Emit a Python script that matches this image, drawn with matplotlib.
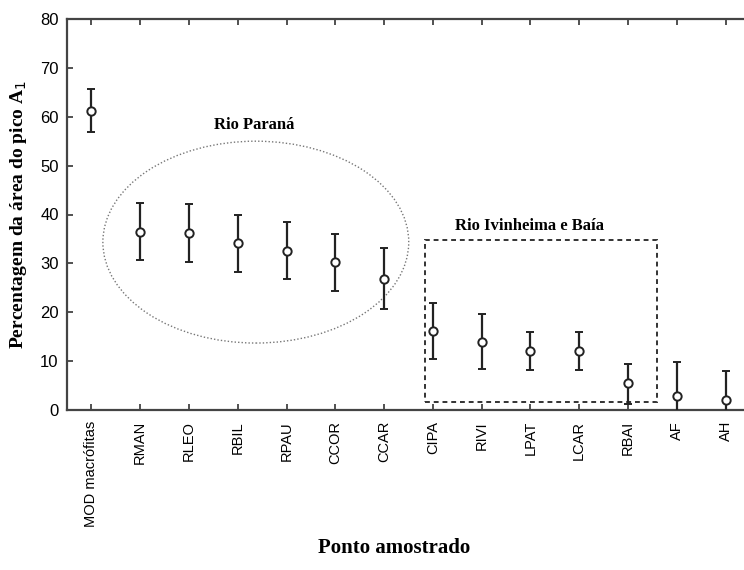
import numpy as np
from matplotlib import pyplot as plt
import matplotlib.patches as patch

plt.rcParams.update({
    "font.family": "Liberation Sans",
    "font.size": 10,
})

pontos = ["MOD macrófitas", "RMAN", "RLEO", "RBIL", "RPAU", "CCOR", "CCAR",
          "CIPA", "RIVI", "LPAT", "LCAR", "RBAI", "AF", "AH"]
media = [61.2, 36.4, 36.2, 34.2, 32.6, 30.2, 26.9, 16.1, 14.0, 12.0, 12.0, 5.5, 2.8, 2.0]
superior = [65.7, 42.4, 42.1, 40.0, 38.5, 36.0, 33.2, 21.8, 19.6, 16.0, 15.9, 9.5, 9.9, 7.9]
inferior = [56.9, 30.6, 30.3, 28.3, 26.8, 24.3, 20.6, 10.5, 8.4, 8.1, 8.2, 1.3, -4.3, -3.9]

media = np.array(media)
yerr = np.vstack([media - np.array(inferior), np.array(superior) - media])
x = np.arange(len(pontos))

fig = plt.figure(figsize=(7.44, 5.70), dpi=100)
# axes run past the right edge like the cropped original
ax = fig.add_axes([67 / 744, 160 / 570, 683 / 744, 391 / 570])

ax.errorbar(x, media, yerr=yerr, fmt="o", color="#222222", ecolor="#222222",
            elinewidth=1.6, capsize=3, capthick=1.4, markersize=6,
            markerfacecolor="white", markeredgecolor="#222222", markeredgewidth=1.4,
            clip_on=True, zorder=3)

# group marks
ell = patch.Ellipse((3.37, 34.35), 6.27, 41.3, fill=False, edgecolor="#777777",
                    linestyle=(0, (1, 1.5)), linewidth=1.0)
ax.add_patch(ell)
rect = patch.Rectangle((6.84, 1.6), 11.59 - 6.84, 34.7 - 1.6, fill=False,
                       edgecolor="#333333", linestyle=(0, (2.5, 2)), linewidth=1.4)
ax.add_patch(rect)

ax.text(3.34, 58.4, "Rio Paraná", ha="center", va="center", fontsize=12,
        fontweight="bold", family="Liberation Serif")
ax.text(8.99, 37.7, "Rio Ivinheima e Baía", ha="center", va="center", fontsize=12,
        fontweight="bold", family="Liberation Serif")

ax.set_xlim(-0.5, len(pontos) - 0.5)
ax.set_ylim(0, 80)
ax.set_yticks(np.arange(0, 81, 10))
ax.set_xticks(x)
ax.set_xticklabels(pontos, rotation=90)

ax.tick_params(axis="x", direction="in", top=True, length=4, width=1.2, colors="#333333",
               labelcolor="black", labelsize=10.5, pad=8)
ax.tick_params(axis="y", direction="in", length=4, width=1.2, colors="#333333",
               labelcolor="black", labelsize=12, pad=6)
for s in ["left", "bottom", "top"]:
    ax.spines[s].set_linewidth(1.6)
    ax.spines[s].set_color("#444444")
ax.spines["right"].set_visible(False)

ax.set_ylabel("Percentagem da área do pico A$_1$", fontsize=14, fontweight="bold",
              family="Liberation Serif", labelpad=8)
fig.text(394 / 744, 1 - 548 / 570, "Ponto amostrado", ha="center", va="center",
         fontsize=15, fontweight="bold", family="Liberation Serif")

fig.savefig("out.png", dpi=100)
